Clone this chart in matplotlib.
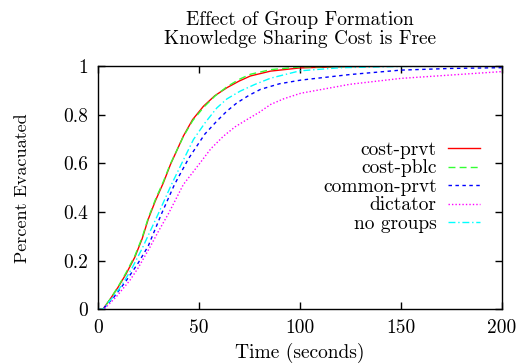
import matplotlib
matplotlib.use('Agg')
import matplotlib.pyplot as plt

plt.rcParams['font.family'] = ['cmr10', 'DejaVu Serif']
plt.rcParams['axes.unicode_minus'] = False
plt.rcParams['mathtext.fontset'] = 'cm'

# 数据
t_cost_prvt = [0, 2.5, 6, 10, 14, 18.4, 22, 25, 28.5, 32.5, 36, 42.4, 47, 52.4, 58, 64, 70, 75.6, 85.6, 100, 120, 150, 200]
y_cost_prvt = [0, 0, 0.04, 0.09, 0.145, 0.215, 0.29, 0.37, 0.445, 0.52, 0.595, 0.712, 0.78, 0.835, 0.878, 0.911, 0.938, 0.959, 0.979, 0.992, 0.997, 0.999, 1.0]

t_cost_pblc = [0, 2.5, 6, 10, 14, 18.4, 22, 25, 28.5, 32.5, 36, 42.4, 47, 52.4, 58, 64, 70, 75.6, 85.6, 100, 150, 200]
y_cost_pblc = [0, 0, 0.04, 0.092, 0.15, 0.22, 0.295, 0.375, 0.45, 0.525, 0.598, 0.71, 0.775, 0.83, 0.876, 0.915, 0.945, 0.966, 0.985, 0.996, 1.0, 1.0]

t_common = [0, 2.5, 8, 14.2, 20, 25, 31.6, 38, 45, 53, 59, 64, 69, 75, 80.6, 90, 100.5, 125, 150, 175, 200]
y_common = [0, 0, 0.05, 0.119, 0.19, 0.26, 0.393, 0.513, 0.62, 0.72, 0.774, 0.815, 0.849, 0.88, 0.904, 0.927, 0.942, 0.965, 0.983, 0.99, 0.993]

t_dictator = [0, 3, 9, 15.9, 20, 25.9, 30, 35, 42.4, 50.7, 56, 62.3, 68, 73.9, 80, 85.6, 92, 100.5, 125, 150, 175, 200]
y_dictator = [0, 0, 0.05, 0.119, 0.17, 0.256, 0.32, 0.393, 0.513, 0.602, 0.66, 0.712, 0.75, 0.78, 0.81, 0.842, 0.865, 0.888, 0.925, 0.949, 0.963, 0.977]

t_no_groups = [0, 2.5, 7, 12, 17, 22, 30, 36.5, 41.6, 47.4, 53, 59, 64, 70.6, 78, 85.6, 100, 120, 150, 200]
y_no_groups = [0, 0, 0.045, 0.1, 0.17, 0.25, 0.393, 0.513, 0.6, 0.698, 0.765, 0.828, 0.865, 0.897, 0.925, 0.95, 0.98, 0.993, 0.998, 1.0]

fig = plt.figure(figsize=(5.18, 3.64), dpi=100)
ax = fig.add_axes([0.1886, 0.150, 0.780, 0.6687])

ax.plot(t_cost_prvt, y_cost_prvt, color='#ff0000', lw=1.0, ls='-', label='cost-prvt')
ax.plot(t_cost_pblc, y_cost_pblc, color='#33ff33', lw=1.0, ls=(0, (5, 3)), label='cost-pblc')
ax.plot(t_common, y_common, color='#0000ff', lw=1.0, ls=(0, (2.5, 2.5)), label='common-prvt')
ax.plot(t_dictator, y_dictator, color='#ff00ff', lw=1.0, ls=(0, (1, 1.5)), label='dictator')
ax.plot(t_no_groups, y_no_groups, color='#00ffff', lw=1.0, ls=(0, (5, 2, 1, 2)), label='no groups')

ax.set_xlim(0, 200)
ax.set_ylim(0, 1)
ax.set_xticks([0, 50, 100, 150, 200])
ax.set_yticks([0, 0.2, 0.4, 0.6, 0.8, 1])
ax.set_yticklabels(['0', '0.2', '0.4', '0.6', '0.8', '1'])
ax.tick_params(direction='in', top=True, right=True, length=5, width=1, labelsize=14, pad=7)
for s in ax.spines.values():
    s.set_linewidth(1.0)

ax.set_xlabel('Time (seconds)', fontsize=14, labelpad=4)
ax.set_ylabel('Percent Evacuated', fontsize=13, labelpad=24)
ax.set_title('Effect of Group Formation\nKnowledge Sharing Cost is Free', fontsize=14, pad=16, linespacing=1.05)

ax.legend(loc='upper right', bbox_to_anchor=(0.946, 0.692), frameon=False, markerfirst=False,
          fontsize=14, handlelength=1.65, labelspacing=0.03, handletextpad=0.57,
          borderpad=0, borderaxespad=0)

fig.savefig('out.png', dpi=100)
